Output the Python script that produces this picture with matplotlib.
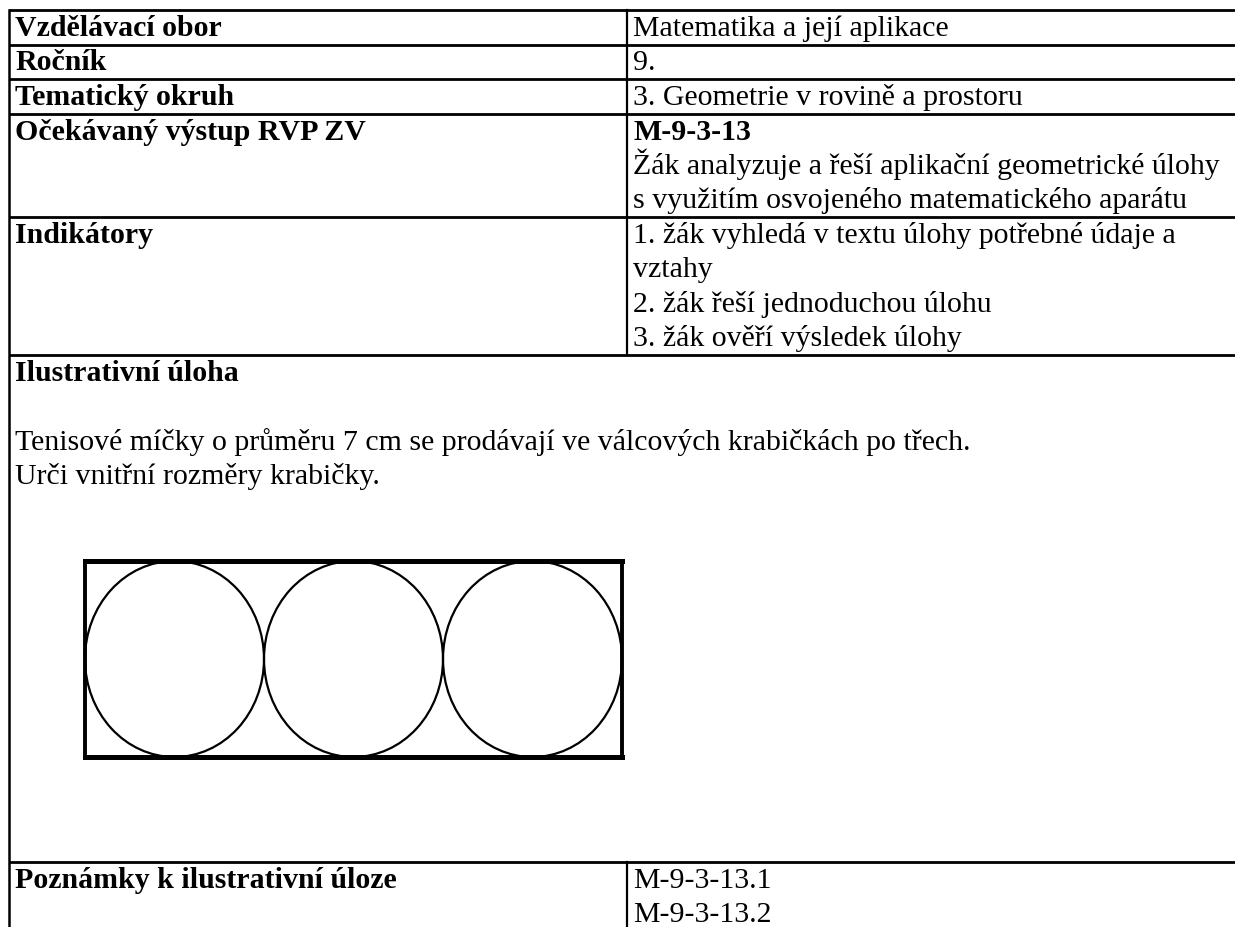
import matplotlib
matplotlib.use("Agg")
import matplotlib.pyplot as plt
from matplotlib.patches import Ellipse

# table content
row_labels = ["Vzdělávací obor", "Ročník", "Tematický okruh",
              "Očekávaný výstup RVP ZV", "Indikátory"]
row_values = [
    ["Matematika a její aplikace"],
    ["9."],
    ["3. Geometrie v rovině a prostoru"],
    ["M-9-3-13",
     "Žák analyzuje a řeší aplikační geometrické úlohy",
     "s využitím osvojeného matematického aparátu"],
    ["1. žák vyhledá v textu úlohy potřebné údaje a",
     "vztahy",
     "2. žák řeší jednoduchou úlohu",
     "3. žák ověří výsledek úlohy"],
]
bold_values = ["M-9-3-13"]

task_title = "Ilustrativní úloha"
task_lines = ["Tenisové míčky o průměru 7 cm se prodávají ve válcových krabičkách po třech.",
              "Urči vnitřní rozměry krabičky."]
notes_label = "Poznámky k ilustrativní úloze"
notes_values = ["M-9-3-13.1", "M-9-3-13.2"]

balls = 3
ball_diameter = 7  # cm

# layout (pixels)
W, H = 1235, 928
LINE = 34.5
TOP = 11
LEFT = 9
COL = 627
TX_L, TX_R = 15, 633
BASE = 25
NOTES_TOP = 863
FONT = "Liberation Serif"
FS = 21.5

fig = plt.figure(figsize=(W / 100, H / 100), dpi=100)
ax = fig.add_axes([0, 0, 1, 1])
ax.set_xlim(0, W)
ax.set_ylim(H, 0)
ax.axis("off")


def txt(x, y, s, bold=False):
    ax.text(x, y, s, fontsize=FS, family=FONT, va="baseline", ha="left",
            fontweight="bold" if bold else "normal", color="black")


def hline(y):
    ax.plot([LEFT, W], [y, y], color="black", lw=2.0, solid_capstyle="butt")


y = TOP
hline(y)
for label, lines in zip(row_labels, row_values):
    txt(TX_L, y + BASE, label, bold=True)
    for i, s in enumerate(lines):
        txt(TX_R, y + BASE + i * LINE, s, bold=s in bold_values)
    y += LINE * len(lines)
    hline(y)
table_bottom = y
ax.plot([COL, COL], [TOP, table_bottom], color="black", lw=1.6)

# task cell: title, empty line, task text
txt(TX_L, table_bottom + BASE, task_title, bold=True)
for i, s in enumerate(task_lines):
    txt(TX_L, table_bottom + BASE + (i + 2) * LINE, s)

# notes row
hline(NOTES_TOP)
txt(TX_L, NOTES_TOP + BASE, notes_label, bold=True)
for i, s in enumerate(notes_values):
    txt(TX_R, NOTES_TOP + BASE + i * LINE, s)
ax.plot([COL, COL], [NOTES_TOP, H], color="black", lw=1.6)
ax.plot([LEFT, LEFT], [TOP, H], color="black", lw=1.8)

# drawing: box with balls
dx0, dx1, dy0, dy1 = 85, 622, 562, 758
dax = fig.add_axes([dx0 / W, 1 - dy1 / H, (dx1 - dx0) / W, (dy1 - dy0) / H])
dax.set_xlim(0, balls * ball_diameter)
dax.set_ylim(0, ball_diameter)
dax.axis("off")
for k in range(balls):
    dax.add_patch(Ellipse((ball_diameter * (k + 0.5), ball_diameter / 2),
                          ball_diameter, ball_diameter, fill=False,
                          lw=1.6, ec="black", clip_on=False))
L = balls * ball_diameter
dax.plot([0, L], [ball_diameter, ball_diameter], color="black", lw=3.6, clip_on=False)
dax.plot([0, L], [0, 0], color="black", lw=3.6, clip_on=False)
dax.plot([0, 0], [0, ball_diameter], color="black", lw=2.8, clip_on=False)
dax.plot([L, L], [0, ball_diameter], color="black", lw=2.8, clip_on=False)

fig.savefig("out.png", dpi=100)
